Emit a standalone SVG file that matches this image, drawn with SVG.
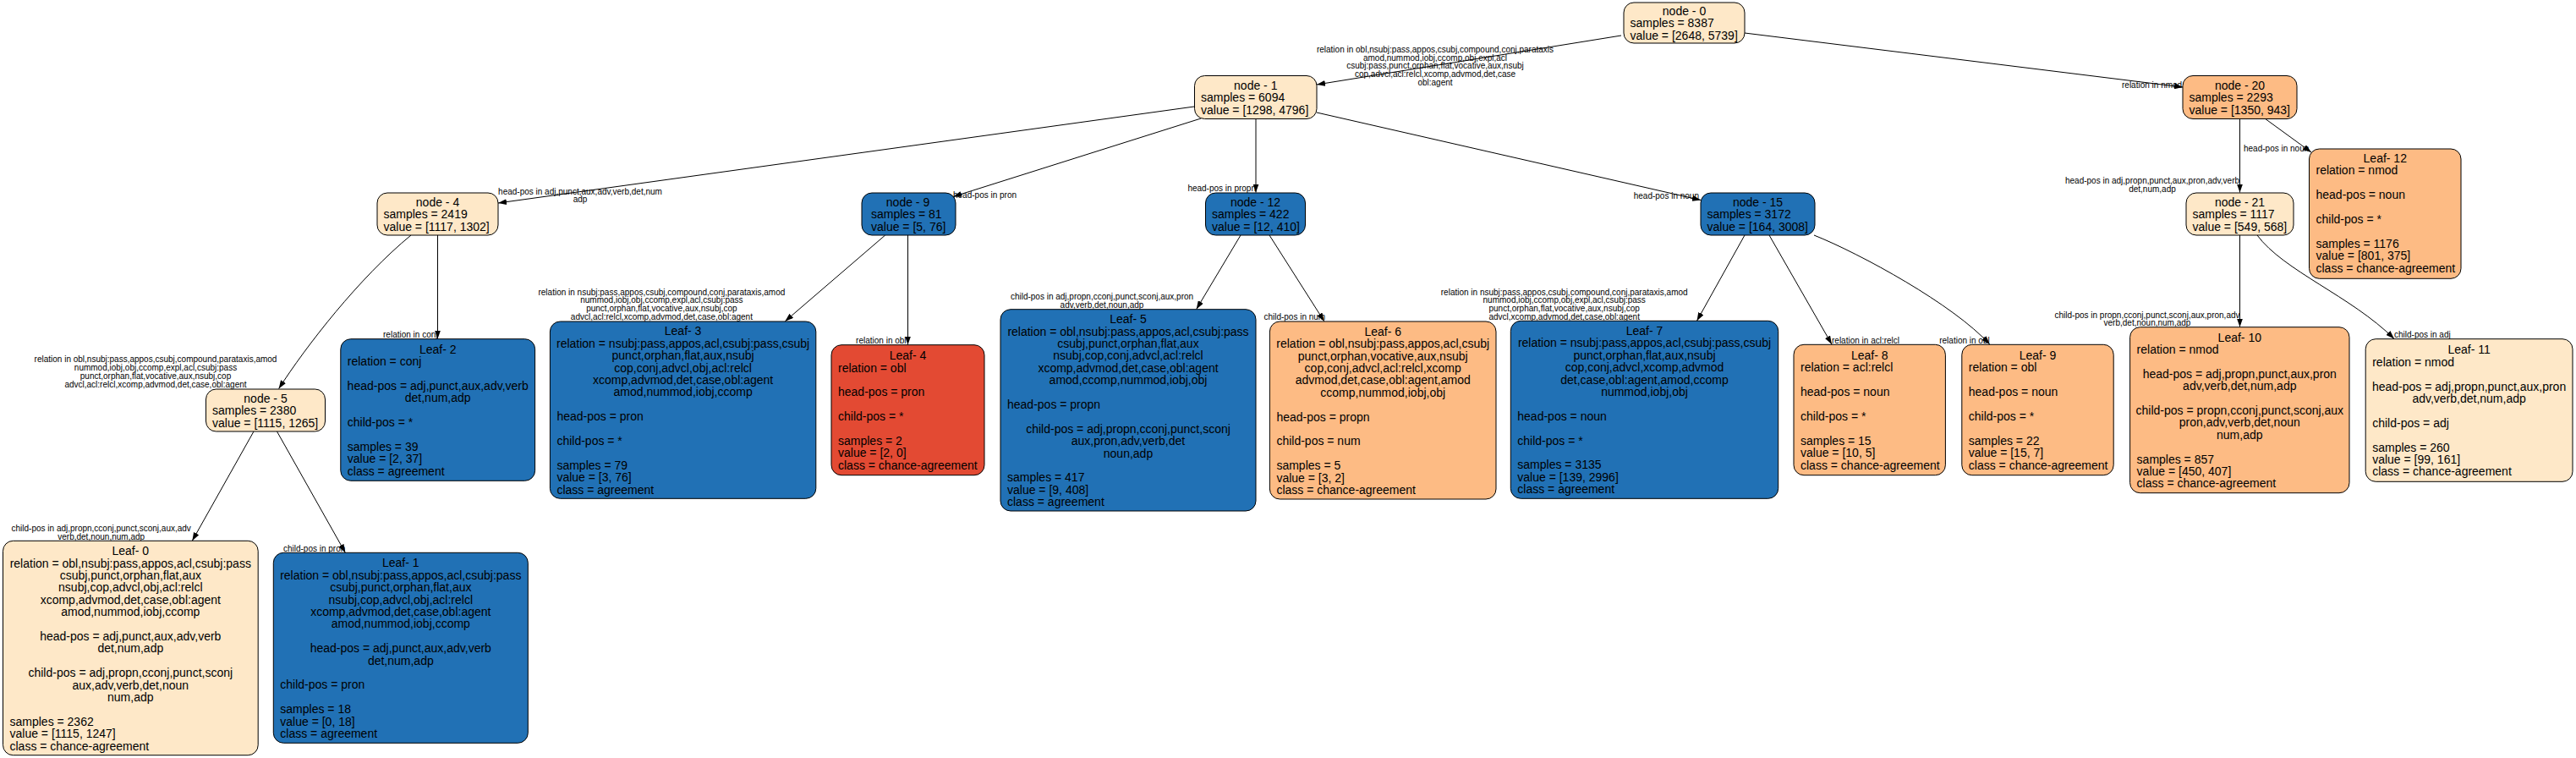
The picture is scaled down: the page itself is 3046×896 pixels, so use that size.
<svg xmlns="http://www.w3.org/2000/svg" width="3046" height="896" viewBox="0 0 3046 896">
<style>
.t{font-family:"Liberation Sans",Arial,Helvetica,sans-serif;font-size:14px;fill:#000}
.c{text-anchor:middle}
.e{font-family:"Liberation Sans",Arial,Helvetica,sans-serif;font-size:10px;fill:#000}
.m{text-anchor:middle}
.s{text-anchor:start}
.r{text-anchor:end}
.b{stroke:#000;stroke-width:1}
.lt{fill:#fee8c8}.or{fill:#fdbb84}.rd{fill:#e34a33}.bl{fill:#2171b5}
.edge{fill:none;stroke:#000;stroke-width:1;marker-end:url(#ah)}
</style>
<defs>
<marker id="ah" viewBox="0 0 10 7" refX="10" refY="3.5" markerWidth="10" markerHeight="7" markerUnits="userSpaceOnUse" orient="auto"><path d="M0,0L10,3.5L0,7z" fill="#000"/></marker>
</defs>
<rect width="3046" height="896" fill="#fff"/>

<g id="connectors">
<path class="edge" d="M1917,42 L1557,100"/>
<text class="e m"><tspan x="1697" y="61.8">relation in obl,nsubj:pass,appos,csubj,compound,conj,parataxis</tspan><tspan x="1697" y="71.5">amod,nummod,iobj,ccomp,obj,expl,acl</tspan><tspan x="1697" y="81.2">csubj:pass,punct,orphan,flat,vocative,aux,nsubj</tspan><tspan x="1697" y="90.9">cop,advcl,acl:relcl,xcomp,advmod,det,case</tspan><tspan x="1697" y="100.6">obl:agent</tspan></text>

<path class="edge" d="M2063,39 L2581,103"/>
<text class="e s" x="2509" y="104">relation in nmod</text>

<path class="edge" d="M1412,126 L589,240"/>
<text class="e m"><tspan x="686" y="229.5">head-pos in adj,punct,aux,adv,verb,det,num</tspan><tspan x="686" y="239.2">adp</tspan></text>

<path class="edge" d="M1420,140 L1127,232.5"/>
<text class="e s" x="1127" y="233.5">head-pos in pron</text>

<path class="edge" d="M1485,141 L1485,227.5"/>
<text class="e r" x="1485" y="226">head-pos in propn</text>

<path class="edge" d="M1557,133 L2011,236.5"/>
<text class="e r" x="2009" y="235">head-pos in noun</text>

<path class="edge" d="M2678,140 L2733,180"/>
<text class="e s" x="2653" y="179">head-pos in noun</text>

<path class="edge" d="M2648.5,140.5 L2648.5,227.5"/>
<text class="e m"><tspan x="2545" y="216.8">head-pos in adj,propn,punct,aux,pron,adv,verb</tspan><tspan x="2545" y="226.5">det,num,adp</tspan></text>

<path class="edge" d="M486,278 C425,328 362,409 329.6,459.5"/>
<text class="e m"><tspan x="184" y="427.8">relation in obl,nsubj:pass,appos,csubj,compound,parataxis,amod</tspan><tspan x="184" y="437.8">nummod,iobj,obj,ccomp,expl,acl,csubj:pass</tspan><tspan x="184" y="447.8">punct,orphan,flat,vocative,aux,nsubj,cop</tspan><tspan x="184" y="457.8">advcl,acl:relcl,xcomp,advmod,det,case,obl:agent</tspan></text>

<path class="edge" d="M517.5,278 L517.5,400.5"/>
<text class="e r" x="517.5" y="399">relation in conj</text>

<path class="edge" d="M1046.7,278 L928.3,379.8"/>
<text class="e m"><tspan x="782.4" y="348.5">relation in nsubj:pass,appos,csubj,compound,conj,parataxis,amod</tspan><tspan x="782.4" y="358.3">nummod,iobj,obj,ccomp,expl,acl,csubj:pass</tspan><tspan x="782.4" y="368.1">punct,orphan,flat,vocative,aux,nsubj,cop</tspan><tspan x="782.4" y="377.9">advcl,acl:relcl,xcomp,advmod,det,case,obl:agent</tspan></text>

<path class="edge" d="M1073.5,278 L1073.5,407.5"/>
<text class="e r" x="1071.6" y="405.8">relation in obl</text>

<path class="edge" d="M1467,278 L1414.7,365.5"/>
<text class="e m"><tspan x="1303" y="354.2">child-pos in adj,propn,cconj,punct,sconj,aux,pron</tspan><tspan x="1303" y="364.2">adv,verb,det,noun,adp</tspan></text>

<path class="edge" d="M1501,278 L1565.8,379.8"/>
<text class="e s" x="1494.4" y="377.8">child-pos in num</text>

<path class="edge" d="M2063,278 L2006.5,379.3"/>
<text class="e m"><tspan x="1849.7" y="348.5">relation in nsubj:pass,appos,csubj,compound,conj,parataxis,amod</tspan><tspan x="1849.7" y="358.3">nummod,iobj,ccomp,obj,expl,acl,csubj:pass</tspan><tspan x="1849.7" y="368.1">punct,orphan,flat,vocative,aux,nsubj,cop</tspan><tspan x="1849.7" y="377.9">advcl,xcomp,advmod,det,case,obl:agent</tspan></text>

<path class="edge" d="M2092,278 L2166,407"/>
<text class="e s" x="2166" y="405.8">relation in acl:relcl</text>

<path class="edge" d="M2145,278 C2200,300 2310,360 2352.7,407"/>
<text class="e r" x="2352.7" y="405.8">relation in obl</text>

<path class="edge" d="M2648.5,278 L2648.5,386.5"/>
<text class="e m"><tspan x="2539" y="375.8">child-pos in propn,cconj,punct,sconj,aux,pron,adv</tspan><tspan x="2539" y="385.4">verb,det,noun,num,adp</tspan></text>

<path class="edge" d="M2669,278 C2700,320 2780,350 2831,400.5"/>
<text class="e s" x="2831" y="399.2">child-pos in adj</text>

<path class="edge" d="M300,510 L227.3,639.3"/>
<text class="e m"><tspan x="119.7" y="627.8">child-pos in adj,propn,cconj,punct,sconj,aux,adv</tspan><tspan x="119.7" y="637.8">verb,det,noun,num,adp</tspan></text>

<path class="edge" d="M327.5,510 L408.3,653.3"/>
<text class="e r" x="408.3" y="651.8">child-pos in pron</text>
</g>

<g id="node0"><rect class="b lt" x="1920" y="3" width="143" height="48" rx="12"/>
<text class="t c" x="1991.5" y="17.9">node - 0</text>
<text class="t"><tspan x="1927.5" y="32.3">samples = 8387</tspan><tspan x="1927.5" y="46.7">value = [2648, 5739]</tspan></text></g>

<g id="node1"><rect class="b lt" x="1412.5" y="89.5" width="144.5" height="51" rx="12"/>
<text class="t c" x="1484.75" y="105.9">node - 1</text>
<text class="t"><tspan x="1420" y="120.3">samples = 6094</tspan><tspan x="1420" y="134.7">value = [1298, 4796]</tspan></text></g>

<g id="node20"><rect class="b or" x="2581" y="89.5" width="135" height="51" rx="12"/>
<text class="t c" x="2648.5" y="105.9">node - 20</text>
<text class="t"><tspan x="2588.5" y="120.3">samples = 2293</tspan><tspan x="2588.5" y="134.7">value = [1350, 943]</tspan></text></g>

<g id="node4"><rect class="b lt" x="446" y="228" width="143" height="50" rx="12"/>
<text class="t c" x="517.5" y="243.9">node - 4</text>
<text class="t"><tspan x="453.5" y="258.3">samples = 2419</tspan><tspan x="453.5" y="272.7">value = [1117, 1302]</tspan></text></g>

<g id="node9"><rect class="b bl" x="1019" y="228" width="111" height="50" rx="12"/>
<text class="t c" x="1073.5" y="243.9">node - 9</text>
<text class="t"><tspan x="1030" y="258.3">samples = 81</tspan><tspan x="1030" y="272.7">value = [5, 76]</tspan></text></g>

<g id="node12"><rect class="b bl" x="1425.5" y="228" width="118" height="50" rx="12"/>
<text class="t c" x="1484.5" y="243.9">node - 12</text>
<text class="t"><tspan x="1433" y="258.3">samples = 422</tspan><tspan x="1433" y="272.7">value = [12, 410]</tspan></text></g>

<g id="node15"><rect class="b bl" x="2011" y="228" width="135" height="50" rx="12"/>
<text class="t c" x="2078.5" y="243.9">node - 15</text>
<text class="t"><tspan x="2018.5" y="258.3">samples = 3172</tspan><tspan x="2018.5" y="272.7">value = [164, 3008]</tspan></text></g>

<g id="node21"><rect class="b lt" x="2585" y="228" width="127" height="50" rx="12"/>
<text class="t c" x="2648.5" y="243.9">node - 21</text>
<text class="t"><tspan x="2592.5" y="258.3">samples = 1117</tspan><tspan x="2592.5" y="272.7">value = [549, 568]</tspan></text></g>

<g id="node5"><rect class="b lt" x="243.5" y="460" width="141" height="50" rx="12"/>
<text class="t c" x="314" y="475.9">node - 5</text>
<text class="t"><tspan x="251" y="490.3">samples = 2380</tspan><tspan x="251" y="504.7">value = [1115, 1265]</tspan></text></g>

<g id="leaf0"><rect class="b lt" x="3.5" y="639.3" width="301.7" height="253.4" rx="12"/>
<text class="t c"><tspan x="154.3" y="656.1">Leaf- 0</tspan><tspan x="154.3" y="670.5">relation = obl,nsubj:pass,appos,acl,csubj:pass</tspan><tspan x="154.3" y="684.9">csubj,punct,orphan,flat,aux</tspan><tspan x="154.3" y="699.3">nsubj,cop,advcl,obj,acl:relcl</tspan><tspan x="154.3" y="713.7">xcomp,advmod,det,case,obl:agent</tspan><tspan x="154.3" y="728.1">amod,nummod,iobj,ccomp</tspan><tspan x="154.3" y="756.9">head-pos = adj,punct,aux,adv,verb</tspan><tspan x="154.3" y="771.3">det,num,adp</tspan><tspan x="154.3" y="800.1">child-pos = adj,propn,cconj,punct,sconj</tspan><tspan x="154.3" y="814.5">aux,adv,verb,det,noun</tspan><tspan x="154.3" y="828.9">num,adp</tspan></text>
<text class="t"><tspan x="11.5" y="857.7">samples = 2362</tspan><tspan x="11.5" y="872.1">value = [1115, 1247]</tspan><tspan x="11.5" y="886.5">class = chance-agreement</tspan></text></g>

<g id="leaf1"><rect class="b bl" x="323.3" y="653.3" width="301" height="225" rx="12"/>
<text class="t c"><tspan x="473.8" y="670.3">Leaf- 1</tspan><tspan x="473.8" y="684.7">relation = obl,nsubj:pass,appos,acl,csubj:pass</tspan><tspan x="473.8" y="699.1">csubj,punct,orphan,flat,aux</tspan><tspan x="473.8" y="713.5">nsubj,cop,advcl,obj,acl:relcl</tspan><tspan x="473.8" y="727.9">xcomp,advmod,det,case,obl:agent</tspan><tspan x="473.8" y="742.3">amod,nummod,iobj,ccomp</tspan><tspan x="473.8" y="771.1">head-pos = adj,punct,aux,adv,verb</tspan><tspan x="473.8" y="785.5">det,num,adp</tspan></text>
<text class="t"><tspan x="331.3" y="814.3">child-pos = pron</tspan><tspan x="331.3" y="843.1">samples = 18</tspan><tspan x="331.3" y="857.5">value = [0, 18]</tspan><tspan x="331.3" y="871.9">class = agreement</tspan></text></g>

<g id="leaf2"><rect class="b bl" x="402.8" y="400.7" width="229.8" height="167.6" rx="12"/>
<text class="t c"><tspan x="517.7" y="417.8">Leaf- 2</tspan><tspan x="517.7" y="461">head-pos = adj,punct,aux,adv,verb</tspan><tspan x="517.7" y="475.4">det,num,adp</tspan></text>
<text class="t"><tspan x="410.8" y="432.2">relation = conj</tspan><tspan x="410.8" y="504.2">child-pos = *</tspan><tspan x="410.8" y="533">samples = 39</tspan><tspan x="410.8" y="547.4">value = [2, 37]</tspan><tspan x="410.8" y="561.8">class = agreement</tspan></text></g>

<g id="leaf3"><rect class="b bl" x="650.4" y="380" width="314.4" height="209.3" rx="12"/>
<text class="t c"><tspan x="807.6" y="396.4">Leaf- 3</tspan><tspan x="807.6" y="410.8">relation = nsubj:pass,appos,acl,csubj:pass,csubj</tspan><tspan x="807.6" y="425.2">punct,orphan,flat,aux,nsubj</tspan><tspan x="807.6" y="439.6">cop,conj,advcl,obj,acl:relcl</tspan><tspan x="807.6" y="454">xcomp,advmod,det,case,obl:agent</tspan><tspan x="807.6" y="468.4">amod,nummod,iobj,ccomp</tspan></text>
<text class="t"><tspan x="658.4" y="497.2">head-pos = pron</tspan><tspan x="658.4" y="526">child-pos = *</tspan><tspan x="658.4" y="554.8">samples = 79</tspan><tspan x="658.4" y="569.2">value = [3, 76]</tspan><tspan x="658.4" y="583.6">class = agreement</tspan></text></g>

<g id="leaf4"><rect class="b rd" x="983" y="407.7" width="181" height="154" rx="12"/>
<text class="t c" x="1073.5" y="425.2">Leaf- 4</text>
<text class="t"><tspan x="991" y="439.6">relation = obl</tspan><tspan x="991" y="468.4">head-pos = pron</tspan><tspan x="991" y="497.2">child-pos = *</tspan><tspan x="991" y="526">samples = 2</tspan><tspan x="991" y="540.4">value = [2, 0]</tspan><tspan x="991" y="554.8">class = chance-agreement</tspan></text></g>

<g id="leaf5"><rect class="b bl" x="1183" y="365.7" width="302" height="238.3" rx="12"/>
<text class="t c"><tspan x="1334" y="382.2">Leaf- 5</tspan><tspan x="1334" y="396.6">relation = obl,nsubj:pass,appos,acl,csubj:pass</tspan><tspan x="1334" y="411">csubj,punct,orphan,flat,aux</tspan><tspan x="1334" y="425.4">nsubj,cop,conj,advcl,acl:relcl</tspan><tspan x="1334" y="439.8">xcomp,advmod,det,case,obl:agent</tspan><tspan x="1334" y="454.2">amod,ccomp,nummod,iobj,obj</tspan><tspan x="1334" y="511.8">child-pos = adj,propn,cconj,punct,sconj</tspan><tspan x="1334" y="526.2">aux,pron,adv,verb,det</tspan><tspan x="1334" y="540.6">noun,adp</tspan></text>
<text class="t"><tspan x="1191" y="483">head-pos = propn</tspan><tspan x="1191" y="569.4">samples = 417</tspan><tspan x="1191" y="583.8">value = [9, 408]</tspan><tspan x="1191" y="598.2">class = agreement</tspan></text></g>

<g id="leaf6"><rect class="b or" x="1501.4" y="380" width="267.6" height="210" rx="12"/>
<text class="t c"><tspan x="1635.2" y="396.7">Leaf- 6</tspan><tspan x="1635.2" y="411.1">relation = obl,nsubj:pass,appos,acl,csubj</tspan><tspan x="1635.2" y="425.5">punct,orphan,vocative,aux,nsubj</tspan><tspan x="1635.2" y="439.9">cop,conj,advcl,acl:relcl,xcomp</tspan><tspan x="1635.2" y="454.3">advmod,det,case,obl:agent,amod</tspan><tspan x="1635.2" y="468.7">ccomp,nummod,iobj,obj</tspan></text>
<text class="t"><tspan x="1509.4" y="497.5">head-pos = propn</tspan><tspan x="1509.4" y="526.3">child-pos = num</tspan><tspan x="1509.4" y="555.1">samples = 5</tspan><tspan x="1509.4" y="569.5">value = [3, 2]</tspan><tspan x="1509.4" y="583.9">class = chance-agreement</tspan></text></g>

<g id="leaf7"><rect class="b bl" x="1786.3" y="379.3" width="316.4" height="210" rx="12"/>
<text class="t c"><tspan x="1944.5" y="396">Leaf- 7</tspan><tspan x="1944.5" y="410.4">relation = nsubj:pass,appos,acl,csubj:pass,csubj</tspan><tspan x="1944.5" y="424.8">punct,orphan,flat,aux,nsubj</tspan><tspan x="1944.5" y="439.2">cop,conj,advcl,xcomp,advmod</tspan><tspan x="1944.5" y="453.6">det,case,obl:agent,amod,ccomp</tspan><tspan x="1944.5" y="468">nummod,iobj,obj</tspan></text>
<text class="t"><tspan x="1794.3" y="496.8">head-pos = noun</tspan><tspan x="1794.3" y="525.6">child-pos = *</tspan><tspan x="1794.3" y="554.4">samples = 3135</tspan><tspan x="1794.3" y="568.8">value = [139, 2996]</tspan><tspan x="1794.3" y="583.2">class = agreement</tspan></text></g>

<g id="leaf8"><rect class="b or" x="2121" y="407.3" width="179.4" height="154.4" rx="12"/>
<text class="t c" x="2210.7" y="425">Leaf- 8</text>
<text class="t"><tspan x="2129" y="439.4">relation = acl:relcl</tspan><tspan x="2129" y="468.2">head-pos = noun</tspan><tspan x="2129" y="497">child-pos = *</tspan><tspan x="2129" y="525.8">samples = 15</tspan><tspan x="2129" y="540.2">value = [10, 5]</tspan><tspan x="2129" y="554.6">class = chance-agreement</tspan></text></g>

<g id="leaf9"><rect class="b or" x="2319.8" y="407.3" width="179.4" height="154.4" rx="12"/>
<text class="t c" x="2409.5" y="425">Leaf- 9</text>
<text class="t"><tspan x="2327.8" y="439.4">relation = obl</tspan><tspan x="2327.8" y="468.2">head-pos = noun</tspan><tspan x="2327.8" y="497">child-pos = *</tspan><tspan x="2327.8" y="525.8">samples = 22</tspan><tspan x="2327.8" y="540.2">value = [15, 7]</tspan><tspan x="2327.8" y="554.6">class = chance-agreement</tspan></text></g>

<g id="leaf10"><rect class="b or" x="2518.6" y="386.7" width="259.4" height="196" rx="12"/>
<text class="t c"><tspan x="2648.3" y="403.6">Leaf- 10</tspan><tspan x="2648.3" y="446.8">head-pos = adj,propn,punct,aux,pron</tspan><tspan x="2648.3" y="461.2">adv,verb,det,num,adp</tspan><tspan x="2648.3" y="490">child-pos = propn,cconj,punct,sconj,aux</tspan><tspan x="2648.3" y="504.4">pron,adv,verb,det,noun</tspan><tspan x="2648.3" y="518.8">num,adp</tspan></text>
<text class="t"><tspan x="2526.6" y="418">relation = nmod</tspan><tspan x="2526.6" y="547.6">samples = 857</tspan><tspan x="2526.6" y="562">value = [450, 407]</tspan><tspan x="2526.6" y="576.4">class = chance-agreement</tspan></text></g>

<g id="leaf11"><rect class="b lt" x="2797.2" y="400.7" width="244.8" height="168.6" rx="12"/>
<text class="t c"><tspan x="2919.6" y="418.3">Leaf- 11</tspan><tspan x="2919.6" y="461.5">head-pos = adj,propn,punct,aux,pron</tspan><tspan x="2919.6" y="475.9">adv,verb,det,num,adp</tspan></text>
<text class="t"><tspan x="2805.2" y="432.7">relation = nmod</tspan><tspan x="2805.2" y="504.7">child-pos = adj</tspan><tspan x="2805.2" y="533.5">samples = 260</tspan><tspan x="2805.2" y="547.9">value = [99, 161]</tspan><tspan x="2805.2" y="562.3">class = chance-agreement</tspan></text></g>

<g id="leaf12"><rect class="b or" x="2730.5" y="176" width="179.5" height="153.3" rx="12"/>
<text class="t c" x="2820.25" y="192">Leaf- 12</text>
<text class="t"><tspan x="2738.5" y="206.4">relation = nmod</tspan><tspan x="2738.5" y="235.2">head-pos = noun</tspan><tspan x="2738.5" y="264">child-pos = *</tspan><tspan x="2738.5" y="292.8">samples = 1176</tspan><tspan x="2738.5" y="307.2">value = [801, 375]</tspan><tspan x="2738.5" y="321.6">class = chance-agreement</tspan></text></g>
</svg>
